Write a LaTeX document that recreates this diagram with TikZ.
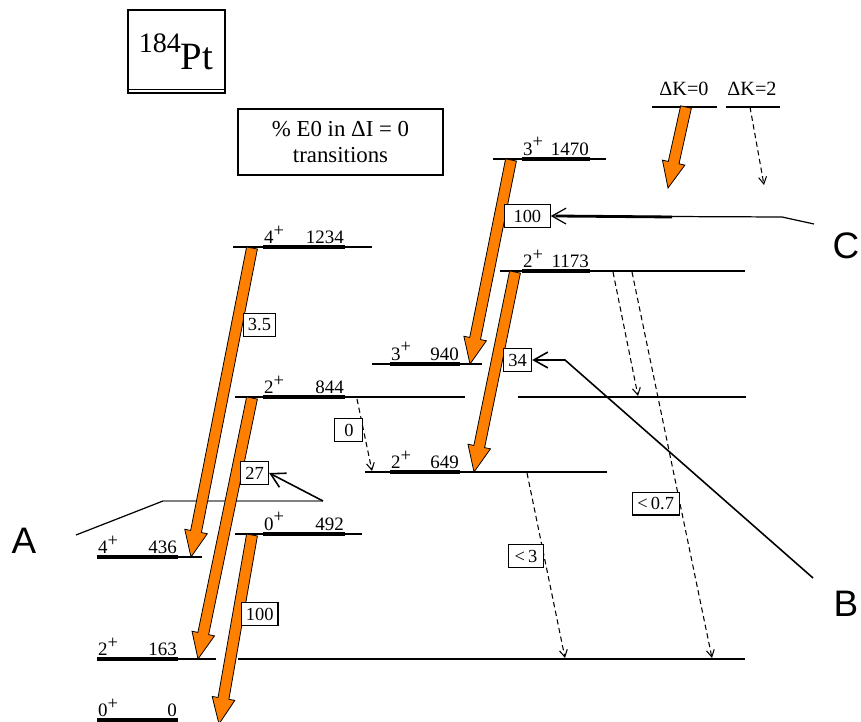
\documentclass[tikz,border=0pt]{standalone}
\usepackage{fontspec}
\setmainfont{Liberation Serif}
\newfontfamily\sansletter{Liberation Sans}
\usetikzlibrary{arrows.meta,positioning,calc}

\definecolor{gorange}{RGB}{255,128,0}

\tikzset{
  lvl/.style={line width=0.6pt},
  bar/.style={line width=2.3pt},
  lab/.style={inner sep=0.5pt,font=\fontsize{10.8}{12}\selectfont},
  band/.style={fill=gorange,draw=black,line width=0.45pt},
  weak/.style={line width=0.6pt,dash pattern=on 3pt off 2pt,-{Straight Barb[length=4pt,width=4.5pt]}},
  val/.style={draw,solid,fill=white,line width=0.6pt,inner xsep=2.5pt,inner ysep=0pt,minimum height=13pt,minimum width=16pt,font=\fontsize{10.5}{12}\selectfont},
  pointer/.style={line width=0.9pt,-{Straight Barb[length=8pt,width=9pt]}},
  letter/.style={font=\sansletter\fontsize{21}{25}\selectfont,inner sep=0pt}
}

\newcommand{\plus}{\raisebox{0.4em}{\fontsize{10.5}{11}\selectfont +}}

% level: y, thin from, bar from, bar to, thin to, spin, energy
\newcommand{\lev}[7]{%
  \draw[lvl] (#2,#1) -- (#5,#1);
  \draw[bar] (#3,#1) -- (#4,#1);
  \node[lab,anchor=south west] (sp#7) at (#3,#1-2) {#6\plus};
  \node[lab,anchor=south east] (en#7) at (#4,#1-2) {#7};}

% orange transition from #1 to #2
\newcommand{\gband}[2]{%
  \path ($(#2)!0.52cm!(#1)$) coordinate (hb);
  \draw[band] ($(#1)!0.11cm!90:(#2)$) -- ($(hb)!0.11cm!-90:(#1)$)
    -- ($(hb)!0.23cm!-90:(#1)$) -- (#2) -- ($(hb)!0.23cm!90:(#1)$)
    -- ($(hb)!0.11cm!90:(#1)$) -- ($(#1)!0.11cm!-90:(#2)$) -- cycle;}

\begin{document}
\begin{tikzpicture}[x=0.02cm,y=-0.02cm]
\useasboundingbox (0,0) rectangle (861,722);

% title
\node[draw,line width=0.6pt,minimum width=1.94cm,minimum height=1.66cm] (title) at (176.5,51.5) {};
\node[anchor=base,inner sep=0pt] (nuc) at (176,70) {\raisebox{10pt}{\fontsize{16}{18}\selectfont 184}\fontsize{22}{24}\selectfont Pt};
\draw[lvl] ([yshift=0.08cm]title.south west) -- ([yshift=0.08cm]title.south east);

\node[draw,line width=0.6pt,minimum width=4.1cm,minimum height=1.32cm,align=center,
  font=\fontsize{13}{14.7}\selectfont] (eo) at (340.5,142) {\% E0 in ΔI = 0\\transitions};

% legend
\node[lab,anchor=base,font=\fontsize{11.5}{13}\selectfont] (dk0) at (684,96) {ΔK=0};
\node[lab,anchor=base,font=\fontsize{11.5}{13}\selectfont] (dk2) at (752,96) {ΔK=2};
\draw[lvl] (652,107) -- (717,107);
\draw[lvl] (726,107) -- (780,107);

% levels
\lev{720}{97}{97}{178}{178}{0}{0}
\lev{659}{97}{97}{178}{216}{2}{163}
\lev{557}{97}{97}{178}{202}{4}{436}
\lev{534}{235}{263}{345}{362}{0}{492}
\lev{397}{235}{263}{345}{465}{2}{844}
\lev{247}{233}{263}{345}{372}{4}{1234}
\lev{364}{372}{390}{460}{482}{3}{940}
\lev{472}{365}{390}{460}{607}{2}{649}
\lev{159}{493}{522}{590}{606}{3}{1470}
\lev{271}{500}{522}{590}{745}{2}{1173}
\draw[lvl] (238,659) -- (745,659);
\draw[lvl] (518,397) -- (746,397);

% pointer A (behind the bands)
\coordinate (pA1) at (76,535);
\coordinate (pA2) at (163,501);
\coordinate (pA3) at (323,501);
\draw[line width=0.7pt] (pA1) -- (pA2);
\draw[lvl,gray] (pA2) -- (pA3);

% E2 bands
\coordinate (t1s) at (252,248); \coordinate (t1e) at (191,557);
\coordinate (t2s) at (252,398); \coordinate (t2e) at (198,659);
\coordinate (t3s) at (252,535); \coordinate (t3e) at (219,724);
\coordinate (t4s) at (511,160); \coordinate (t4e) at (470,364);
\coordinate (t5s) at (515,272); \coordinate (t5e) at (474,472);
\coordinate (k0s) at (686,107); \coordinate (k0e) at (668,188);
\gband{t1s}{t1e}
\gband{t2s}{t2e}
\gband{t3s}{t3e}
\gband{t4s}{t4e}
\gband{t5s}{t5e}
\gband{k0s}{k0e}

% E0 values
\node[val,anchor=west] (v35) at (243,325) {3.5};
\node[val,anchor=west] (v27) at (240,473) {27};
\node[val,anchor=west] (v100a) at (241,614) {100};
\node[val,anchor=west,minimum width=26pt] (v100b) at (504,216) {100};
\node[val,anchor=west] (v34) at (503,360) {34};

% weak transitions
\coordinate (d1s) at (357,399); \coordinate (d1e) at (372,471);
\coordinate (d2s) at (613,272); \coordinate (d2e) at (638,396);
\coordinate (d3s) at (632,272); \coordinate (d3e) at (712,658);
\coordinate (d4s) at (527,473); \coordinate (d4e) at (565,658);
\coordinate (k2s) at (750,107); \coordinate (k2e) at (764,185);
\draw[weak] (d1s) -- node[val,pos=0.43,anchor=east] (v0) {0} (d1e);
\draw[weak] (d2s) -- (d2e);
\draw[weak] (d3s) -- node[val,pos=0.6,anchor=east,minimum width=27pt] (v07) {<\,0.7} (d3e);
\draw[weak] (d4s) -- node[val,pos=0.45,anchor=east,minimum width=20pt] (v3) {<\,3} (d4e);
\draw[weak] (k2s) -- (k2e);

% pointers
\draw[pointer] (pA3) -- (v27.east);
\coordinate (pB1) at (813,578);
\coordinate (pB2) at (565,360);
\draw[pointer] (pB1) -- (pB2) -- (v34.east);
\coordinate (pC1) at (814,224);
\coordinate (pC2) at (782,217);
\coordinate (pC3) at (672,217);
\draw[pointer,line width=0.7pt] (pC1) -- (pC2) -- (v100b.east);
\draw[line width=1.6pt] (pC3) -- ([xshift=3pt]v100b.east);

\node[letter] (A) at (24,541) {A};
\node[letter] (B) at (846,604) {B};
\node[letter] (C) at (846,246) {C};
\end{tikzpicture}
\end{document}
